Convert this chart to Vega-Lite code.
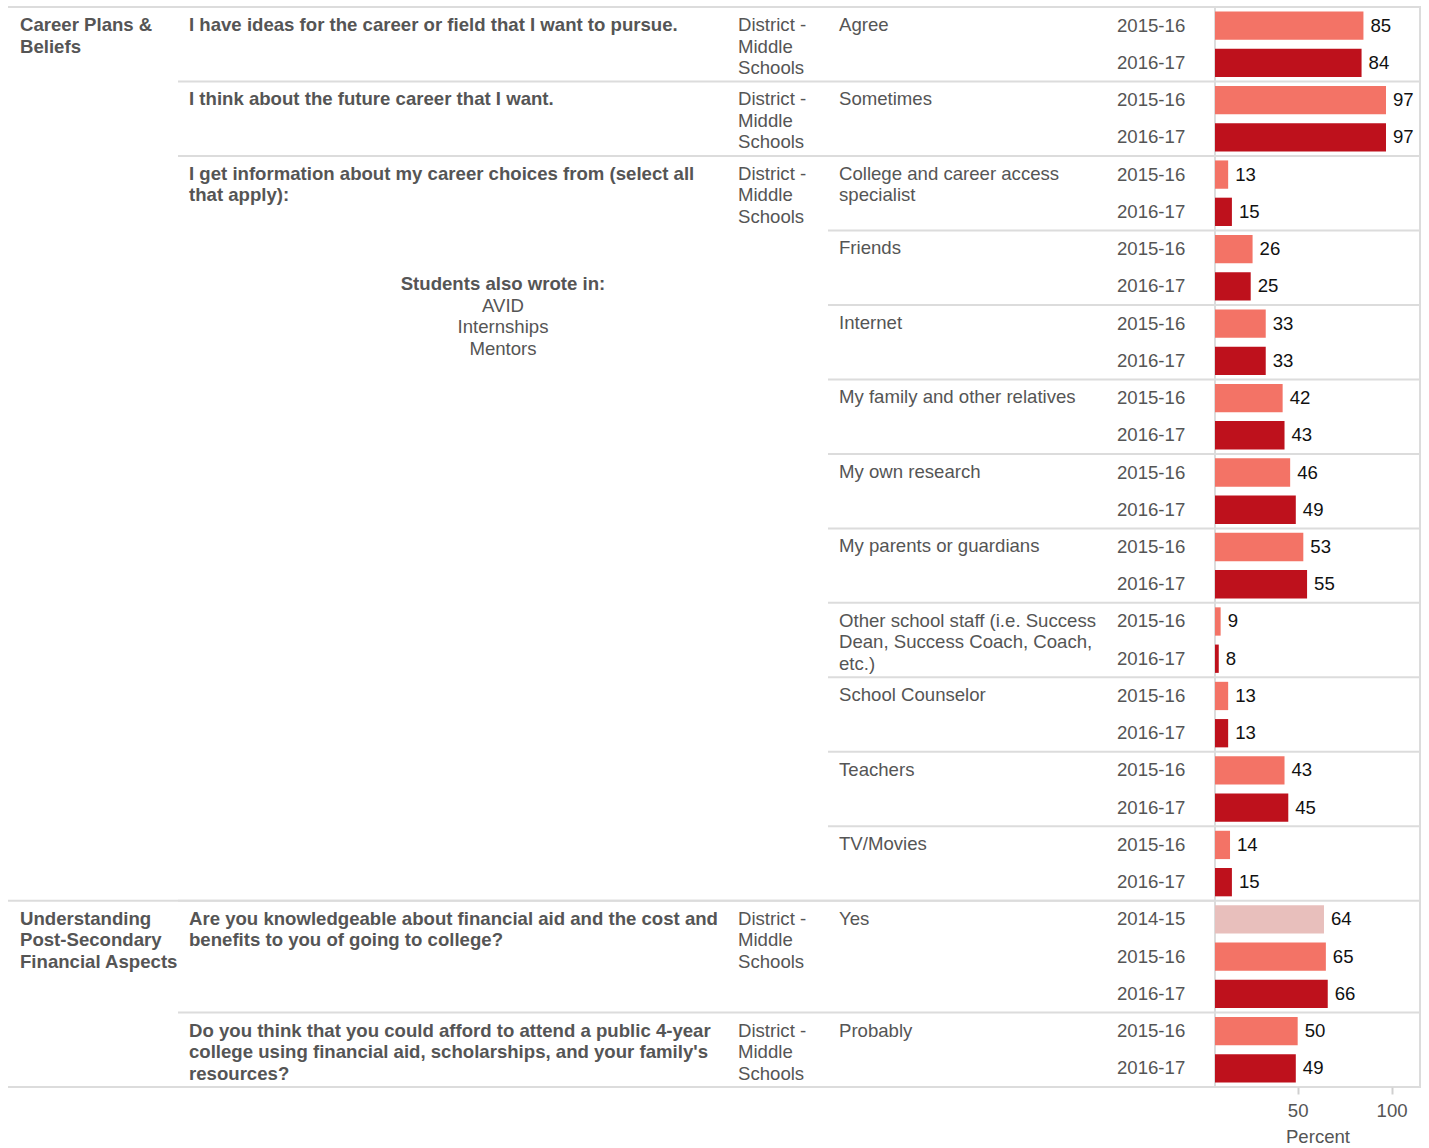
{
  "$schema": "https://vega.github.io/schema/vega-lite/v6.json",
  "padding": {"left": 7, "top": 5, "right": 9, "bottom": 0},
  "background": "white",
  "spacing": 0,
  "bounds": "flush",
  "config": {
    "view": {"stroke": null},
    "font": "Liberation Sans",
    "text": {"font": "Liberation Sans", "fontSize": 18.6, "color": "#555555", "lineBreak": "\n", "lineHeight": 21.5}
  },
  "datasets": {
    "d": [
      {"row": 0, "cat": "Career Plans &\nBeliefs", "q": "I have ideas for the career or field that I want to pursue.", "region": "District -\nMiddle\nSchools", "ans": "Agree", "year": "2015-16", "pct": 85},
      {"row": 1, "cat": "Career Plans &\nBeliefs", "q": "I have ideas for the career or field that I want to pursue.", "region": "District -\nMiddle\nSchools", "ans": "Agree", "year": "2016-17", "pct": 84},
      {"row": 2, "cat": "Career Plans &\nBeliefs", "q": "I think about the future career that I want.", "region": "District -\nMiddle\nSchools", "ans": "Sometimes", "year": "2015-16", "pct": 97},
      {"row": 3, "cat": "Career Plans &\nBeliefs", "q": "I think about the future career that I want.", "region": "District -\nMiddle\nSchools", "ans": "Sometimes", "year": "2016-17", "pct": 97},
      {"row": 4, "cat": "Career Plans &\nBeliefs", "q": "I get information about my career choices from (select all\nthat apply):", "region": "District -\nMiddle\nSchools", "ans": "College and career access\nspecialist", "year": "2015-16", "pct": 13},
      {"row": 5, "cat": "Career Plans &\nBeliefs", "q": "I get information about my career choices from (select all\nthat apply):", "region": "District -\nMiddle\nSchools", "ans": "College and career access\nspecialist", "year": "2016-17", "pct": 15},
      {"row": 6, "cat": "Career Plans &\nBeliefs", "q": "I get information about my career choices from (select all\nthat apply):", "region": "District -\nMiddle\nSchools", "ans": "Friends", "year": "2015-16", "pct": 26},
      {"row": 7, "cat": "Career Plans &\nBeliefs", "q": "I get information about my career choices from (select all\nthat apply):", "region": "District -\nMiddle\nSchools", "ans": "Friends", "year": "2016-17", "pct": 25},
      {"row": 8, "cat": "Career Plans &\nBeliefs", "q": "I get information about my career choices from (select all\nthat apply):", "region": "District -\nMiddle\nSchools", "ans": "Internet", "year": "2015-16", "pct": 33},
      {"row": 9, "cat": "Career Plans &\nBeliefs", "q": "I get information about my career choices from (select all\nthat apply):", "region": "District -\nMiddle\nSchools", "ans": "Internet", "year": "2016-17", "pct": 33},
      {"row": 10, "cat": "Career Plans &\nBeliefs", "q": "I get information about my career choices from (select all\nthat apply):", "region": "District -\nMiddle\nSchools", "ans": "My family and other relatives", "year": "2015-16", "pct": 42},
      {"row": 11, "cat": "Career Plans &\nBeliefs", "q": "I get information about my career choices from (select all\nthat apply):", "region": "District -\nMiddle\nSchools", "ans": "My family and other relatives", "year": "2016-17", "pct": 43},
      {"row": 12, "cat": "Career Plans &\nBeliefs", "q": "I get information about my career choices from (select all\nthat apply):", "region": "District -\nMiddle\nSchools", "ans": "My own research", "year": "2015-16", "pct": 46},
      {"row": 13, "cat": "Career Plans &\nBeliefs", "q": "I get information about my career choices from (select all\nthat apply):", "region": "District -\nMiddle\nSchools", "ans": "My own research", "year": "2016-17", "pct": 49},
      {"row": 14, "cat": "Career Plans &\nBeliefs", "q": "I get information about my career choices from (select all\nthat apply):", "region": "District -\nMiddle\nSchools", "ans": "My parents or guardians", "year": "2015-16", "pct": 53},
      {"row": 15, "cat": "Career Plans &\nBeliefs", "q": "I get information about my career choices from (select all\nthat apply):", "region": "District -\nMiddle\nSchools", "ans": "My parents or guardians", "year": "2016-17", "pct": 55},
      {"row": 16, "cat": "Career Plans &\nBeliefs", "q": "I get information about my career choices from (select all\nthat apply):", "region": "District -\nMiddle\nSchools", "ans": "Other school staff (i.e. Success\nDean, Success Coach, Coach,\netc.)", "year": "2015-16", "pct": 9},
      {"row": 17, "cat": "Career Plans &\nBeliefs", "q": "I get information about my career choices from (select all\nthat apply):", "region": "District -\nMiddle\nSchools", "ans": "Other school staff (i.e. Success\nDean, Success Coach, Coach,\netc.)", "year": "2016-17", "pct": 8},
      {"row": 18, "cat": "Career Plans &\nBeliefs", "q": "I get information about my career choices from (select all\nthat apply):", "region": "District -\nMiddle\nSchools", "ans": "School Counselor", "year": "2015-16", "pct": 13},
      {"row": 19, "cat": "Career Plans &\nBeliefs", "q": "I get information about my career choices from (select all\nthat apply):", "region": "District -\nMiddle\nSchools", "ans": "School Counselor", "year": "2016-17", "pct": 13},
      {"row": 20, "cat": "Career Plans &\nBeliefs", "q": "I get information about my career choices from (select all\nthat apply):", "region": "District -\nMiddle\nSchools", "ans": "Teachers", "year": "2015-16", "pct": 43},
      {"row": 21, "cat": "Career Plans &\nBeliefs", "q": "I get information about my career choices from (select all\nthat apply):", "region": "District -\nMiddle\nSchools", "ans": "Teachers", "year": "2016-17", "pct": 45},
      {"row": 22, "cat": "Career Plans &\nBeliefs", "q": "I get information about my career choices from (select all\nthat apply):", "region": "District -\nMiddle\nSchools", "ans": "TV/Movies", "year": "2015-16", "pct": 14},
      {"row": 23, "cat": "Career Plans &\nBeliefs", "q": "I get information about my career choices from (select all\nthat apply):", "region": "District -\nMiddle\nSchools", "ans": "TV/Movies", "year": "2016-17", "pct": 15},
      {"row": 24, "cat": "Understanding\nPost-Secondary\nFinancial Aspects", "q": "Are you knowledgeable about financial aid and the cost and\nbenefits to you of going to college?", "region": "District -\nMiddle\nSchools", "ans": "Yes", "year": "2014-15", "pct": 64},
      {"row": 25, "cat": "Understanding\nPost-Secondary\nFinancial Aspects", "q": "Are you knowledgeable about financial aid and the cost and\nbenefits to you of going to college?", "region": "District -\nMiddle\nSchools", "ans": "Yes", "year": "2015-16", "pct": 65},
      {"row": 26, "cat": "Understanding\nPost-Secondary\nFinancial Aspects", "q": "Are you knowledgeable about financial aid and the cost and\nbenefits to you of going to college?", "region": "District -\nMiddle\nSchools", "ans": "Yes", "year": "2016-17", "pct": 66},
      {"row": 27, "cat": "Understanding\nPost-Secondary\nFinancial Aspects", "q": "Do you think that you could afford to attend a public 4-year\ncollege using financial aid, scholarships, and your family's\nresources?", "region": "District -\nMiddle\nSchools", "ans": "Probably", "year": "2015-16", "pct": 50},
      {"row": 28, "cat": "Understanding\nPost-Secondary\nFinancial Aspects", "q": "Do you think that you could afford to attend a public 4-year\ncollege using financial aid, scholarships, and your family's\nresources?", "region": "District -\nMiddle\nSchools", "ans": "Probably", "year": "2016-17", "pct": 49}
    ],
    "notes": [
      {"row": 7, "head": "Students also wrote in:", "items": "AVID\nInternships\nMentors"}
    ]
  },
  "hconcat": [
    {
      "width": 170, "height": 1080,
      "data": {"name": "d"},
      "layer": [
        {"transform": [{"aggregate": [{"op": "min", "field": "row", "as": "row"}], "groupby": ["cat"]}],
         "mark": {"type": "rule", "color": "#dcdcdc", "strokeWidth": 2},
         "encoding": {"y": {"field": "row", "type": "ordinal", "bandPosition": 0, "scale": {"domain": [0,1,2,3,4,5,6,7,8,9,10,11,12,13,14,15,16,17,18,19,20,21,22,23,24,25,26,27,28], "paddingInner": 0, "paddingOuter": 0}, "axis": null}}},
        {"transform": [{"aggregate": [{"op": "max", "field": "row", "as": "row"}]}],
         "mark": {"type": "rule", "color": "#dcdcdc", "strokeWidth": 2},
         "encoding": {"y": {"field": "row", "type": "ordinal", "bandPosition": 1}}},
        {"transform": [{"aggregate": [{"op": "min", "field": "row", "as": "row"}], "groupby": ["cat"]}],
         "mark": {"type": "text", "align": "left", "baseline": "alphabetic", "dy": 24, "fontWeight": "bold"},
         "encoding": {"y": {"field": "row", "type": "ordinal", "bandPosition": 0}, "x": {"value": 12}, "text": {"field": "cat"}}}
      ]
    },
    {
      "width": 550, "height": 1080,
      "layer": [
        {"data": {"name": "d"},
         "transform": [{"aggregate": [{"op": "min", "field": "row", "as": "row"}], "groupby": ["cat"]}],
         "mark": {"type": "rule", "color": "#dcdcdc", "strokeWidth": 2},
         "encoding": {"y": {"field": "row", "type": "ordinal", "bandPosition": 0, "scale": {"domain": [0,1,2,3,4,5,6,7,8,9,10,11,12,13,14,15,16,17,18,19,20,21,22,23,24,25,26,27,28], "paddingInner": 0, "paddingOuter": 0}, "axis": null}}},
        {"data": {"name": "d"},
         "transform": [{"aggregate": [{"op": "min", "field": "row", "as": "row"}], "groupby": ["q"]}],
         "mark": {"type": "rule", "color": "#dcdcdc", "strokeWidth": 2},
         "encoding": {"y": {"field": "row", "type": "ordinal", "bandPosition": 0}}},
        {"data": {"name": "d"},
         "transform": [{"aggregate": [{"op": "max", "field": "row", "as": "row"}]}],
         "mark": {"type": "rule", "color": "#dcdcdc", "strokeWidth": 2},
         "encoding": {"y": {"field": "row", "type": "ordinal", "bandPosition": 1}}},
        {"data": {"name": "d"},
         "transform": [{"aggregate": [{"op": "min", "field": "row", "as": "row"}], "groupby": ["q"]}],
         "mark": {"type": "text", "align": "left", "baseline": "alphabetic", "dy": 24, "fontWeight": "bold"},
         "encoding": {"y": {"field": "row", "type": "ordinal", "bandPosition": 0}, "x": {"value": 11}, "text": {"field": "q"}}},
        {"data": {"name": "notes"},
         "mark": {"type": "text", "align": "center", "baseline": "alphabetic", "dy": 22, "fontWeight": "bold"},
         "encoding": {"y": {"field": "row", "type": "ordinal", "bandPosition": 0}, "x": {"value": 325}, "text": {"field": "head"}}},
        {"data": {"name": "notes"},
         "mark": {"type": "text", "align": "center", "baseline": "alphabetic", "dy": 44, "lineHeight": 21.6},
         "encoding": {"y": {"field": "row", "type": "ordinal", "bandPosition": 0}, "x": {"value": 325}, "text": {"field": "items"}}}
      ]
    },
    {
      "width": 100, "height": 1080,
      "data": {"name": "d"},
      "layer": [
        {"transform": [{"aggregate": [{"op": "min", "field": "row", "as": "row"}], "groupby": ["cat"]}],
         "mark": {"type": "rule", "color": "#dcdcdc", "strokeWidth": 2},
         "encoding": {"y": {"field": "row", "type": "ordinal", "bandPosition": 0, "scale": {"domain": [0,1,2,3,4,5,6,7,8,9,10,11,12,13,14,15,16,17,18,19,20,21,22,23,24,25,26,27,28], "paddingInner": 0, "paddingOuter": 0}, "axis": null}}},
        {"transform": [{"aggregate": [{"op": "min", "field": "row", "as": "row"}], "groupby": ["q"]}],
         "mark": {"type": "rule", "color": "#dcdcdc", "strokeWidth": 2},
         "encoding": {"y": {"field": "row", "type": "ordinal", "bandPosition": 0}}},
        {"transform": [{"aggregate": [{"op": "max", "field": "row", "as": "row"}]}],
         "mark": {"type": "rule", "color": "#dcdcdc", "strokeWidth": 2},
         "encoding": {"y": {"field": "row", "type": "ordinal", "bandPosition": 1}}},
        {"transform": [{"aggregate": [{"op": "min", "field": "row", "as": "row"}], "groupby": ["q", "region"]}],
         "mark": {"type": "text", "align": "left", "baseline": "alphabetic", "dy": 24},
         "encoding": {"y": {"field": "row", "type": "ordinal", "bandPosition": 0}, "x": {"value": 10}, "text": {"field": "region"}}}
      ]
    },
    {
      "width": 280, "height": 1080,
      "data": {"name": "d"},
      "layer": [
        {"transform": [{"aggregate": [{"op": "min", "field": "row", "as": "row"}], "groupby": ["cat"]}],
         "mark": {"type": "rule", "color": "#dcdcdc", "strokeWidth": 2},
         "encoding": {"y": {"field": "row", "type": "ordinal", "bandPosition": 0, "scale": {"domain": [0,1,2,3,4,5,6,7,8,9,10,11,12,13,14,15,16,17,18,19,20,21,22,23,24,25,26,27,28], "paddingInner": 0, "paddingOuter": 0}, "axis": null}}},
        {"transform": [{"aggregate": [{"op": "min", "field": "row", "as": "row"}], "groupby": ["q", "ans"]}],
         "mark": {"type": "rule", "color": "#dcdcdc", "strokeWidth": 2},
         "encoding": {"y": {"field": "row", "type": "ordinal", "bandPosition": 0}}},
        {"transform": [{"aggregate": [{"op": "max", "field": "row", "as": "row"}]}],
         "mark": {"type": "rule", "color": "#dcdcdc", "strokeWidth": 2},
         "encoding": {"y": {"field": "row", "type": "ordinal", "bandPosition": 1}}},
        {"transform": [{"aggregate": [{"op": "min", "field": "row", "as": "row"}], "groupby": ["q", "ans"]}],
         "mark": {"type": "text", "align": "left", "baseline": "alphabetic", "dy": 24},
         "encoding": {"y": {"field": "row", "type": "ordinal", "bandPosition": 0}, "x": {"value": 11}, "text": {"field": "ans"}}}
      ]
    },
    {
      "width": 107, "height": 1080,
      "data": {"name": "d"},
      "layer": [
        {"transform": [{"aggregate": [{"op": "min", "field": "row", "as": "row"}], "groupby": ["cat"]}],
         "mark": {"type": "rule", "color": "#dcdcdc", "strokeWidth": 2},
         "encoding": {"y": {"field": "row", "type": "ordinal", "bandPosition": 0, "scale": {"domain": [0,1,2,3,4,5,6,7,8,9,10,11,12,13,14,15,16,17,18,19,20,21,22,23,24,25,26,27,28], "paddingInner": 0, "paddingOuter": 0}, "axis": null}}},
        {"transform": [{"aggregate": [{"op": "min", "field": "row", "as": "row"}], "groupby": ["q", "ans"]}],
         "mark": {"type": "rule", "color": "#dcdcdc", "strokeWidth": 2},
         "encoding": {"y": {"field": "row", "type": "ordinal", "bandPosition": 0}}},
        {"transform": [{"aggregate": [{"op": "max", "field": "row", "as": "row"}]}],
         "mark": {"type": "rule", "color": "#dcdcdc", "strokeWidth": 2},
         "encoding": {"y": {"field": "row", "type": "ordinal", "bandPosition": 1}}},
        {"mark": {"type": "text", "align": "left", "baseline": "middle"},
         "encoding": {"y": {"field": "row", "type": "ordinal", "bandPosition": 0.5}, "x": {"value": 9}, "text": {"field": "year"}}}
      ]
    },
    {
      "width": 205, "height": 1080,
      "view": {"stroke": "#dcdcdc", "strokeWidth": 2},
      "data": {"name": "d"},
      "layer": [
        {"transform": [{"aggregate": [{"op": "min", "field": "row", "as": "row"}], "groupby": ["q", "ans"]}],
         "mark": {"type": "rule", "color": "#dcdcdc", "strokeWidth": 2},
         "encoding": {"y": {"field": "row", "type": "ordinal", "bandPosition": 0, "scale": {"domain": [0,1,2,3,4,5,6,7,8,9,10,11,12,13,14,15,16,17,18,19,20,21,22,23,24,25,26,27,28], "paddingInner": 0, "paddingOuter": 0}, "axis": null}}},
        {"mark": {"type": "bar", "height": {"band": 0.76}, "clip": true},
         "encoding": {
           "y": {"field": "row", "type": "ordinal"},
           "x": {"field": "pct", "type": "quantitative", "scale": {"domain": [6, 115.1], "nice": false},
                 "axis": {"values": [50, 100], "title": "Percent", "domain": false, "grid": false, "tickColor": "#d0d0d0", "tickSize": 7, "tickWidth": 2, "labelFontSize": 18.6, "labelColor": "#555555", "labelFont": "Liberation Sans", "labelPadding": 7, "labelFlush": false, "titleFontSize": 18.6, "titleFontWeight": "normal", "titleColor": "#555555", "titleFont": "Liberation Sans", "titlePadding": 8}},
           "color": {"field": "year", "type": "nominal", "scale": {"domain": ["2014-15", "2015-16", "2016-17"], "range": ["#e8bfbc", "#f37366", "#be111c"]}, "legend": null}
         }},
        {"mark": {"type": "text", "align": "left", "baseline": "middle", "dx": 7, "color": "#111111"},
         "encoding": {
           "y": {"field": "row", "type": "ordinal", "bandPosition": 0.5},
           "x": {"field": "pct", "type": "quantitative"},
           "text": {"field": "pct", "type": "quantitative"}
         }}
      ]
    }
  ]
}
